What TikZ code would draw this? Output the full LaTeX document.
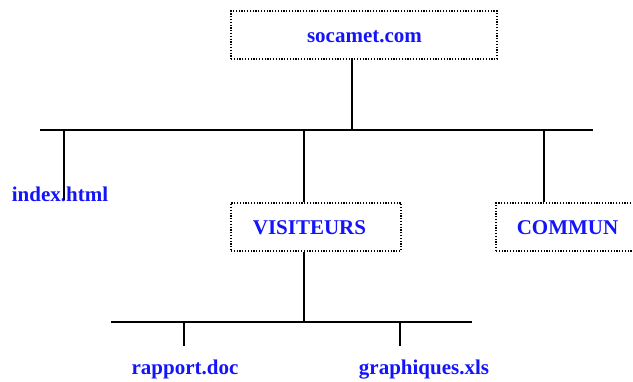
\documentclass[tikz,border=0pt]{standalone}
\usepackage{fontspec}
\setmainfont{Liberation Serif}
\definecolor{lblue}{RGB}{20,20,250}
\begin{document}
\begin{tikzpicture}[x=1pt,y=-1pt,
  boxst/.style={draw=black,line width=1.2pt,dash pattern=on 1.2pt off 1.6pt,inner sep=0pt},
  lbl/.style={text=lblue,font=\fontsize{21}{24}\selectfont\bfseries,inner sep=0pt,anchor=base},
  wire/.style={line width=1.5pt,black}]
\useasboundingbox (0,0) rectangle (633,382);
% boxes
\node[boxst,minimum width=266pt,minimum height=48pt] (top) at (364,35) {};
\node[boxst,minimum width=170pt,minimum height=48pt] (visbox) at (316,227) {};
\node[boxst,minimum width=143pt,minimum height=48pt] (combox) at (567.5,227) {};
% labels
\node[lbl] (site) at (364.5,43) {socamet.com};
\node[lbl] (idx) at (60,202) {index.html};
\node[lbl] (vis) at (309.5,235) {VISITEURS};
\node[lbl] (com) at (567.5,235) {COMMUN};
\node[lbl] (rap) at (185,375) {rapport.doc};
\node[lbl] (gra) at (424,375) {graphiques.xls};
% bus coordinates
\coordinate (busL) at (40,130);
\coordinate (busR) at (593,130);
\coordinate (j1) at (352,130);
\coordinate (j2) at (64,130);
\coordinate (j2e) at (64,200);
\coordinate (j3) at (304,130);
\coordinate (j4) at (544,130);
\coordinate (j5) at (304,322);
\coordinate (bus2L) at (111,322);
\coordinate (bus2R) at (472,322);
\coordinate (j6) at (184,322);
\coordinate (j6e) at (184,346);
\coordinate (j7) at (400,322);
\coordinate (j7e) at (400,346);
% wires
\draw[wire] (busL) -- (busR);
\draw[wire] (top.south -| j1) -- (j1);
\draw[wire] (j2) -- (j2e);
\draw[wire] (j3) -- (visbox.north -| j3);
\draw[wire] (j4) -- (combox.north -| j4);
\draw[wire] (visbox.south -| j5) -- (j5);
\draw[wire] (bus2L) -- (bus2R);
\draw[wire] (j6) -- (j6e);
\draw[wire] (j7) -- (j7e);
\end{tikzpicture}
\end{document}
